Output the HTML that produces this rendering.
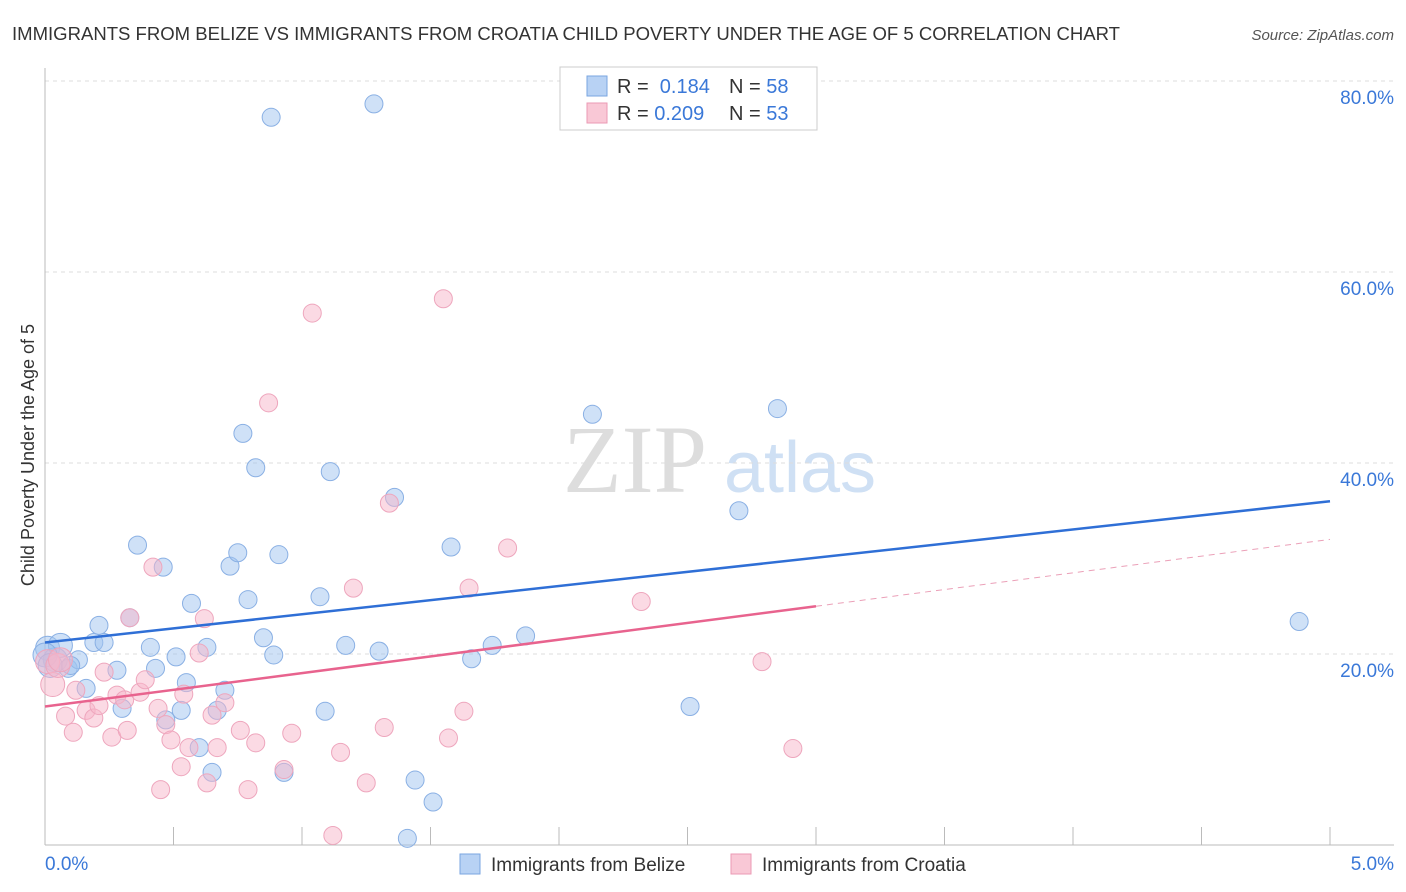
<!DOCTYPE html>
<html><head><meta charset="utf-8"><style>
body{margin:0;background:#fff;font-family:"Liberation Sans",sans-serif;}
svg{display:block}
</style></head><body>
<svg id="chart" width="1406" height="892" viewBox="0 0 1406 892">
<text x="12" y="40" font-size="18" fill="#333" textLength="1108" lengthAdjust="spacingAndGlyphs">IMMIGRANTS FROM BELIZE VS IMMIGRANTS FROM CROATIA CHILD POVERTY UNDER THE AGE OF 5 CORRELATION CHART</text>
<text x="1394" y="40" font-size="15" fill="#555" font-style="italic" text-anchor="end">Source: ZipAtlas.com</text>
<text x="635" y="492" font-size="96" fill="#ddd" font-family="Liberation Serif" text-anchor="middle">ZIP</text>
<text x="800" y="492" font-size="72" fill="#cfe0f4" text-anchor="middle">atlas</text>
<text transform="translate(34,455) rotate(-90)" font-size="18" fill="#333" text-anchor="middle">Child Poverty Under the Age of 5</text>
<g id="grid"></g><g id="axes"></g><g id="pts"></g><g id="lines"></g>
<g>
<rect x="560" y="67" width="257" height="63" fill="#fff" stroke="#ccc"/>
<rect x="587" y="76" width="20" height="20" fill="#b8d2f4" stroke="#7aa6e0"/>
<rect x="587" y="103" width="20" height="20" fill="#f9c8d6" stroke="#eb9ab4"/>
<text x="617" y="93" font-size="20" fill="#333">R = <tspan fill="#3a78d8">&#160;0.184</tspan><tspan x="729">N = </tspan><tspan fill="#3a78d8">58</tspan></text>
<text x="617" y="120" font-size="20" fill="#333">R = <tspan fill="#3a78d8">0.209</tspan><tspan x="729">N = </tspan><tspan fill="#3a78d8">53</tspan></text>
</g>
<g>
<rect x="460" y="854" width="20" height="20" fill="#b8d2f4" stroke="#7aa6e0"/>
<text x="491" y="871" font-size="19" fill="#333">Immigrants from Belize</text>
<rect x="731" y="854" width="20" height="20" fill="#f9c8d6" stroke="#eb9ab4"/>
<text x="762" y="871" font-size="19" fill="#333">Immigrants from Croatia</text>
</g>
</svg>
<script>
const yTicks=[20,40,60,80];
const yTickLabels=["20.0%","40.0%","60.0%","80.0%"];
const xTickLabels=["0.0%","5.0%"];
const belizeX=[0.01,0.04,0.06,0.09,0.13,0.16,0.19,0.21,0.23,0.28,0.30,0.33,0.36,0.41,0.43,0.46,0.47,0.51,0.53,0.55,0.57,0.60,0.63,0.65,0.67,0.70,0.72,0.75,0.77,0.79,0.82,0.85,0.88,0.89,0.91,0.93,1.07,1.09,1.11,1.17,1.28,1.30,1.36,1.41,1.44,1.51,1.58,1.66,1.74,1.87,2.13,2.51,2.70,2.85,4.88,0.0,0.02,0.10];
const belizeY=[20.6,19.4,20.9,18.5,19.4,16.4,21.2,23.0,21.2,18.3,14.3,23.8,31.4,20.7,18.5,29.1,13.1,19.7,14.1,17.0,25.3,10.2,20.7,7.6,14.1,16.2,29.2,30.6,43.1,25.7,39.5,21.7,76.2,19.9,30.4,7.6,26.0,14.0,39.1,20.9,77.6,20.3,36.4,0.7,6.8,4.5,31.2,19.5,20.9,21.9,45.1,14.5,35.0,45.7,23.4,19.9,18.8,18.8];
const croatiaX=[0.01,0.03,0.05,0.08,0.11,0.12,0.16,0.19,0.21,0.23,0.26,0.28,0.31,0.32,0.33,0.37,0.39,0.42,0.44,0.45,0.47,0.49,0.53,0.54,0.56,0.60,0.62,0.63,0.65,0.67,0.70,0.76,0.79,0.82,0.87,0.93,0.96,1.04,1.12,1.15,1.20,1.25,1.32,1.34,1.55,1.57,1.63,1.65,1.80,2.32,2.79,2.91,0.06];
const croatiaY=[19.2,16.8,18.8,13.5,11.8,16.2,14.1,13.3,14.6,18.1,11.3,15.7,15.2,12.0,23.8,16.0,17.3,29.1,14.3,5.8,12.6,11.0,8.2,15.8,10.2,20.1,23.7,6.5,13.6,10.2,14.9,12.0,5.8,10.7,46.3,7.9,11.7,55.7,1.0,9.7,26.9,6.5,12.3,35.8,57.2,11.2,14.0,26.9,31.1,25.5,19.2,10.1,19.4];
const belizeTrend=[21.2,36.0];
const croatiaTrend=[14.5,32.0];
const croatiaSolidEnd=3.0;
const X=v=>45+v*257, Y=v=>845-v*9.55;
const NS="http://www.w3.org/2000/svg";
function mk(p,t,a){const e=document.createElementNS(NS,t);for(const k in a)e.setAttribute(k,a[k]);document.getElementById(p).appendChild(e);return e;}
yTicks.forEach((t,i)=>{
 const g=mk("grid","line",{x1:45,x2:1394,y1:Y(t),y2:Y(t),stroke:"#ddd","stroke-dasharray":"4,4"});
 
 
 const l=mk("grid","text",{x:1394,y:Y(t)+23,"font-size":19,fill:"#3a78d8","text-anchor":"end"});
 l.textContent=yTickLabels[i];
 
 
});
mk("axes","line",{x1:45,x2:45,y1:68,y2:845,stroke:"#bbb"});
mk("axes","line",{x1:45,x2:1394,y1:845,y2:845,stroke:"#bbb"});
for(let i=0;i<=10;i++){const t=mk("axes","line",{x1:X(i*0.5),x2:X(i*0.5),y1:827,y2:845,stroke:"#bbb"});
 
 }
[0,5].forEach((v,i)=>{const l=mk("axes","text",{x:i?1394:45,y:870,"font-size":19,fill:"#3a78d8","text-anchor":i?"end":"start"});
 l.textContent=xTickLabels[i];
 
 });
function pts(xs,ys,fill,stroke,name){xs.forEach((x,i)=>{const r=x<0.07?12:9;
 const c=mk("pts","circle",{cx:X(x),cy:Y(ys[i]),r:r,fill:fill,stroke:stroke,"stroke-width":1});
 
 });}
pts(belizeX,belizeY,"rgba(160,196,240,0.5)","#8ab0e4","point-belize");
pts(croatiaX,croatiaY,"rgba(248,182,202,0.5)","#eea6bd","point-croatia");
const tb=v=>belizeTrend[0]+(belizeTrend[1]-belizeTrend[0])*v/5;
const tc=v=>croatiaTrend[0]+(croatiaTrend[1]-croatiaTrend[0])*v/5;
let a=mk("lines","line",{x1:X(0),y1:Y(tb(0)),x2:X(5),y2:Y(tb(5)),stroke:"#2f6fd6","stroke-width":2.5});


let b=mk("lines","line",{x1:X(0),y1:Y(tc(0)),x2:X(croatiaSolidEnd),y2:Y(tc(croatiaSolidEnd)),stroke:"#e8638e","stroke-width":2.5});


let c=mk("lines","line",{x1:X(croatiaSolidEnd),y1:Y(tc(croatiaSolidEnd)),x2:X(5),y2:Y(tc(5)),stroke:"#eba0b8","stroke-width":1,"stroke-dasharray":"6,5"});


</script>
</body></html>
